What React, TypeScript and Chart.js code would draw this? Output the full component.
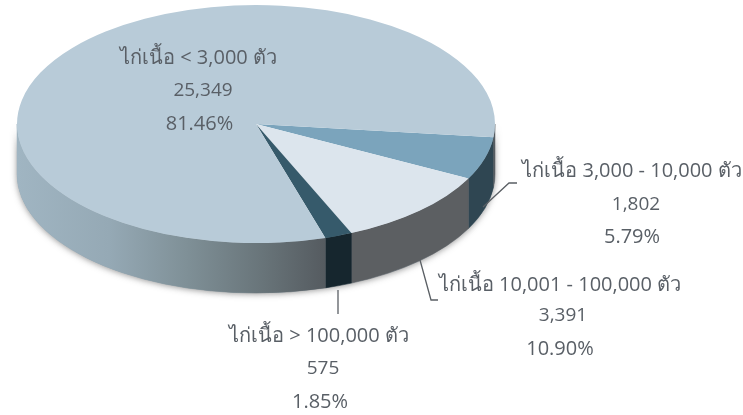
import React, { useEffect, useRef } from "react";
import { Chart, registerables } from "chart.js";

Chart.register(...registerables);

const categories = ["ไก่เนื้อ 3,000 - 10,000 ตัว", "ไก่เนื้อ 10,001 - 100,000 ตัว", "ไก่เนื้อ > 100,000 ตัว", "ไก่เนื้อ < 3,000 ตัว"];
const farmCounts = [1802, 3391, 575, 25349];
const countLabels = ["1,802", "3,391", "575", "25,349"];
const percentLabels = ["5.79%", "10.90%", "1.85%", "81.46%"];
const topColors = ["#7ba4bc", "#dce5ed", "#365a6b", "#b8cbd8"];
const wallColors = ["#2f4652", "#5c5f62", "#16262e", ""];

const PIE = { cx: 256, cy: 124, rx: 239, ry: 119, depth: 50, rotation: 96.4 };
const labelPos = [
  { xs: [632, 636, 632], ys: [171, 205, 237] },
  { xs: [560, 563, 560], ys: [285, 316, 349] },
  { xs: [319, 323, 320], ys: [336, 369, 402] },
  { xs: [198.5, 203, 199.5], ys: [58, 91, 124] },
];
const leaders = [
  [[483, 207], [509, 183], [517, 183]],
  [[420, 260], [431, 300], [438, 300]],
  [[338, 290], [338, 314]],
];

const pie3d = {
  id: "pie3d",
  beforeDatasetsDraw(chart: any) {
    const ctx = chart.ctx;
    const arcs = chart.getDatasetMeta(0).data;
    const { cx, cy, rx, ry, depth } = PIE;
    ctx.save();
    ctx.shadowColor = "rgba(60,60,60,0.55)";
    ctx.shadowBlur = 6;
    ctx.shadowOffsetY = 1;
    ctx.fillStyle = "#8fa3b0";
    ctx.beginPath();
    ctx.ellipse(cx, cy, rx, ry, 0, Math.PI, 0, true);
    ctx.ellipse(cx, cy + depth, rx, ry, 0, 0, Math.PI);
    ctx.closePath();
    ctx.fill();
    ctx.restore();

    const grad = ctx.createLinearGradient(cx - rx, 0, cx + 69, 0);
    grad.addColorStop(0, "#a0b5c2");
    grad.addColorStop(0.3, "#95a9b5");
    grad.addColorStop(0.55, "#7f9097");
    grad.addColorStop(0.8, "#687479");
    grad.addColorStop(1, "#555b60");

    arcs.forEach((arc: any, i: number) => {
      const { startAngle, endAngle } = arc.getProps(["startAngle", "endAngle"], true);
      for (let k = -1; k <= 2; k++) {
        const lo = Math.max(startAngle, 2 * Math.PI * k);
        const hi = Math.min(endAngle, 2 * Math.PI * k + Math.PI);
        if (hi <= lo) continue;
        ctx.beginPath();
        ctx.ellipse(cx, cy, rx, ry, 0, lo, hi);
        ctx.ellipse(cx, cy + depth, rx, ry, 0, hi, lo, true);
        ctx.closePath();
        const fill = wallColors[i] || grad;
        ctx.fillStyle = fill;
        ctx.strokeStyle = fill;
        ctx.lineWidth = 0.5;
        ctx.fill();
        ctx.stroke();
      }
    });

    const first = arcs[0];
    const sx = rx / first.outerRadius;
    const sy = ry / first.outerRadius;
    ctx.save();
    ctx.translate(cx, cy);
    ctx.scale(sx, sy);
    ctx.translate(-first.x, -first.y);
  },
  afterDatasetsDraw(chart: any) {
    const ctx = chart.ctx;
    ctx.restore();
    ctx.save();
    ctx.strokeStyle = "#5a5f64";
    ctx.lineWidth = 1.3;
    leaders.forEach((pts) => {
      ctx.beginPath();
      pts.forEach(([x, y], j) => (j ? ctx.lineTo(x, y) : ctx.moveTo(x, y)));
      ctx.stroke();
    });
    ctx.fillStyle = "#595f66";
    ctx.textAlign = "center";
    ctx.textBaseline = "middle";
    categories.forEach((c, i) => {
      const p = labelPos[i];
      ctx.font = '20px "Open Sans", "Noto Sans", sans-serif';
      ctx.fillText(c, p.xs[0], p.ys[0]);
      ctx.font = '19px "Open Sans", "Noto Sans", sans-serif';
      ctx.fillText(countLabels[i], p.xs[1], p.ys[1]);
      ctx.font = '20px "Open Sans", "Noto Sans", sans-serif';
      ctx.fillText(percentLabels[i], p.xs[2], p.ys[2]);
    });
    ctx.restore();
  },
};

export default function App() {
  const ref = useRef<HTMLCanvasElement>(null);
  useEffect(() => {
    const chart = new Chart(ref.current as HTMLCanvasElement, {
      type: "pie",
      data: {
        labels: categories,
        datasets: [{ data: farmCounts, backgroundColor: topColors, borderWidth: 0, hoverOffset: 0 }],
      },
      options: {
        responsive: false,
        animation: false,
        rotation: PIE.rotation,
        plugins: { legend: { display: false }, tooltip: { enabled: false } },
      },
      plugins: [pie3d],
    } as any);
    return () => chart.destroy();
  }, []);
  return (
    <canvas
      ref={ref}
      width={743}
      height={415}
      style={{ position: "fixed", left: 0, top: 0, width: 743, height: 415, background: "#fff" }}
    />
  );
}
